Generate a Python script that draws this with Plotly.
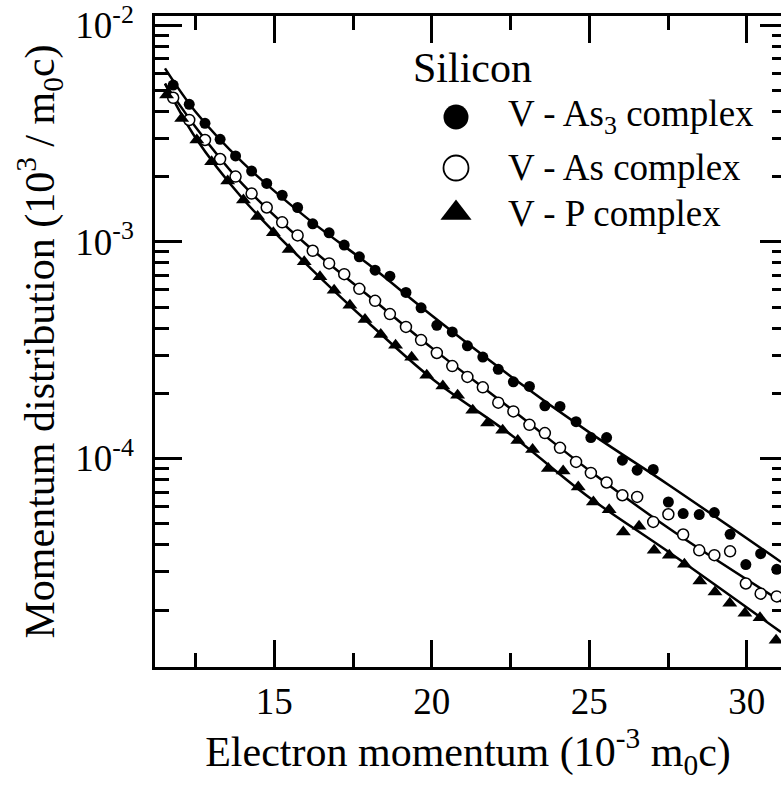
import plotly.graph_objects as go

# ---- measured momentum distributions (x in 10^-3 m0c) ----
p_as3 = [11.79, 12.30, 12.80, 13.28, 13.77, 14.28, 14.76, 15.25, 15.74, 16.22,
         16.74, 17.22, 17.70, 18.20, 18.67, 19.18, 19.66, 20.16, 20.65, 21.13,
         21.62, 22.11, 22.59, 23.10, 23.59, 24.07, 24.58, 25.05, 25.55, 26.05,
         26.52, 27.03, 27.51, 27.98, 28.49, 28.97, 29.47, 29.97, 30.44, 30.95]
n_as3 = [5.29e-3, 4.31e-3, 3.52e-3, 2.97e-3, 2.49e-3, 2.12e-3, 1.86e-3, 1.64e-3, 1.44e-3, 1.21e-3,
         1.10e-3, 9.66e-4, 8.53e-4, 7.40e-4, 6.94e-4, 5.84e-4, 4.96e-4, 4.12e-4, 3.84e-4, 3.31e-4,
         2.94e-4, 2.58e-4, 2.26e-4, 2.15e-4, 1.75e-4, 1.74e-4, 1.48e-4, 1.25e-4, 1.25e-4, 9.82e-5,
         8.83e-5, 8.90e-5, 6.30e-5, 5.57e-5, 5.51e-5, 5.63e-5, 4.47e-5, 3.24e-5, 3.64e-5, 3.08e-5]

p_as = p_as3
n_as = [4.62e-3, 3.65e-3, 2.95e-3, 2.41e-3, 2.00e-3, 1.67e-3, 1.44e-3, 1.23e-3, 1.07e-3, 9.09e-4,
        7.95e-4, 7.09e-4, 6.07e-4, 5.34e-4, 4.64e-4, 4.05e-4, 3.52e-4, 3.07e-4, 2.67e-4, 2.38e-4,
        2.13e-4, 1.81e-4, 1.65e-4, 1.43e-4, 1.31e-4, 1.12e-4, 9.65e-5, 8.58e-5, 7.75e-5, 6.77e-5,
        6.65e-5, 5.10e-5, 5.53e-5, 4.46e-5, 3.77e-5, 3.58e-5, 3.73e-5, 2.65e-5, 2.38e-5, 2.31e-5]

p_p = [11.58, 12.06, 12.54, 13.01, 13.52, 14.02, 14.47, 14.97, 15.47, 15.95,
       16.45, 16.90, 17.40, 17.88, 18.38, 18.85, 19.36, 19.84, 20.35, 20.82,
       21.30, 21.77, 22.25, 22.73, 23.20, 23.70, 24.17, 24.65, 25.13, 25.63,
       26.08, 26.58, 27.06, 27.54, 28.02, 28.51, 28.99, 29.46, 29.94, 30.42, 30.93]
n_p = [4.76e-3, 3.71e-3, 2.95e-3, 2.34e-3, 1.91e-3, 1.56e-3, 1.31e-3, 1.10e-3, 9.22e-4, 8.09e-4,
       6.89e-4, 5.98e-4, 5.10e-4, 4.38e-4, 3.74e-4, 3.33e-4, 2.93e-4, 2.42e-4, 2.16e-4, 1.96e-4,
       1.67e-4, 1.46e-4, 1.35e-4, 1.21e-4, 1.10e-4, 8.99e-5, 8.77e-5, 7.39e-5, 6.30e-5, 5.81e-5,
       4.58e-5, 4.87e-5, 3.77e-5, 3.58e-5, 3.25e-5, 2.72e-5, 2.42e-5, 2.15e-5, 1.93e-5, 1.84e-5, 1.45e-5]

# ---- calculated curves ----
fit_x = [11.53, 12.5, 14.0, 16.0, 18.0, 20.0, 22.5, 25.0, 27.5, 31.09]
fit_as3 = [6.31e-3, 3.98e-3, 2.32e-3, 1.30e-3, 7.85e-4, 4.57e-4, 2.40e-4, 1.32e-4, 7.59e-5, 3.33e-5]
fit_as = [5.37e-3, 3.39e-3, 1.84e-3, 9.77e-4, 5.62e-4, 3.24e-4, 1.70e-4, 8.81e-5, 4.79e-5, 2.19e-5]
fit_p = [5.37e-3, 3.02e-3, 1.58e-3, 7.94e-4, 4.22e-4, 2.34e-4, 1.29e-4, 6.61e-5, 3.72e-5, 1.58e-5]

x_ticks = [15, 20, 25, 30]
x_minor = [12.5, 17.5, 22.5, 27.5]
y_ticks = [1e-4, 1e-3, 1e-2]
y_ticktext = ["10<sup>-4</sup>", "10<sup>-3</sup>", "10<sup>-2</sup>"]
y_minor = [m * d for d in (1e-5, 1e-4, 1e-3) for m in range(2, 10)]

legend_title = "Silicon"
legend_labels = ["V - As<sub>3</sub> complex", "V - As complex", "V - P complex"]

FONT = "Liberation Serif"
W, H = 781, 786
L, R, T, B = 155, 781, 16, 667
X_RANGE = [11.213, 31.086]
Y_RANGE = [-4.962, -1.958]

fig = go.Figure()

line_style = dict(color="black", width=2.5, shape="spline", smoothing=1.0)
for fy in (fit_as3, fit_as, fit_p):
    fig.add_trace(go.Scatter(x=fit_x, y=fy, mode="lines", line=line_style,
                             showlegend=False, hoverinfo="skip"))

fig.add_trace(go.Scatter(x=p_as3, y=n_as3, mode="markers",
                         marker=dict(symbol="circle", size=11, color="black", opacity=1),
                         showlegend=False))
fig.add_trace(go.Scatter(x=p_as, y=n_as, mode="markers",
                         marker=dict(symbol="circle", size=11, color="white", opacity=1,
                                     line=dict(color="black", width=1.5)),
                         showlegend=False))
fig.add_trace(go.Scatter(x=p_p, y=n_p, mode="markers",
                         marker=dict(symbol="triangle-up", size=13, color="black", opacity=1),
                         showlegend=False))

# right-hand tick marks
fig.add_trace(go.Scatter(x=[None], y=[None], yaxis="y2", showlegend=False))

# legend keys drawn on a pixel-space overlay
key_y = [117, 168, 213]
fig.add_trace(go.Scatter(
    x=[456, 456, 456], y=key_y, xaxis="x3", yaxis="y3", mode="markers",
    marker=dict(symbol=["circle", "circle", "triangle-up"], size=[25, 25, 27],
                color=["black", "white", "black"], opacity=1,
                line=dict(color="black", width=[0, 1.8, 0])),
    showlegend=False, hoverinfo="skip"))


def px_x(px):
    return (px - L) / (R - L)


def px_y(py):
    return (B - py) / (B - T)


annotations = [dict(text=legend_title, x=px_x(411), y=px_y(68), xref="paper", yref="paper",
                    xanchor="left", yanchor="middle", showarrow=False,
                    font=dict(family=FONT, size=42, color="black"))]
for lab, yy in zip(legend_labels, key_y):
    annotations.append(dict(text=lab, x=px_x(506), y=px_y(yy), xref="paper", yref="paper",
                            xanchor="left", yanchor="middle", showarrow=False,
                            font=dict(family=FONT, size=37, color="black")))

fig.update_layout(
    width=W, height=H,
    margin=dict(l=L, r=W - R, t=T, b=H - B, autoexpand=False),
    paper_bgcolor="white", plot_bgcolor="white",
    font=dict(family=FONT, color="black"),
    showlegend=False,
    annotations=annotations,
    xaxis=dict(
        range=X_RANGE, showgrid=False, zeroline=False,
        showline=True, linecolor="black", linewidth=2.5, mirror="ticks",
        ticks="inside", ticklen=27, tickwidth=2.5, tickcolor="black",
        tickvals=x_ticks, tickfont=dict(family=FONT, size=37),
        ticklabeloverflow="allow",
        minor=dict(tickvals=x_minor, ticks="inside", ticklen=14, tickwidth=2.5,
                   tickcolor="black", showgrid=False),
        title=dict(text="Electron momentum (10<sup>-3</sup> m<sub>0</sub>c)",
                   font=dict(family=FONT, size=42), standoff=16),
    ),
    yaxis=dict(
        type="log", range=Y_RANGE, showgrid=False, zeroline=False,
        showline=True, linecolor="black", linewidth=2.5, mirror=False,
        ticks="inside", ticklen=27, tickwidth=2.5, tickcolor="black",
        tickvals=y_ticks, ticktext=y_ticktext, tickfont=dict(family=FONT, size=37),
        ticklabeloverflow="allow", ticklabelstandoff=11,
        minor=dict(tickvals=y_minor, ticks="inside", ticklen=14, tickwidth=2.5,
                   tickcolor="black", showgrid=False),
        title=dict(text="Momentum distribution (10<sup>3</sup> / m<sub>0</sub>c)",
                   font=dict(family=FONT, size=42), standoff=8),
    ),
    yaxis2=dict(
        type="log", range=Y_RANGE, overlaying="y", side="right", anchor="x",
        showgrid=False, zeroline=False, showline=False, showticklabels=False,
        ticks="inside", ticklen=21, tickwidth=2.5, tickcolor="black", tickvals=y_ticks,
        minor=dict(tickvals=y_minor, ticks="inside", ticklen=9, tickwidth=2.5,
                   tickcolor="black", showgrid=False),
    ),
    xaxis3=dict(range=[L, R], overlaying="x", visible=False, fixedrange=True),
    yaxis3=dict(range=[B, T], overlaying="y", visible=False, fixedrange=True, anchor="x3"),
)

fig.write_html("out.html")
